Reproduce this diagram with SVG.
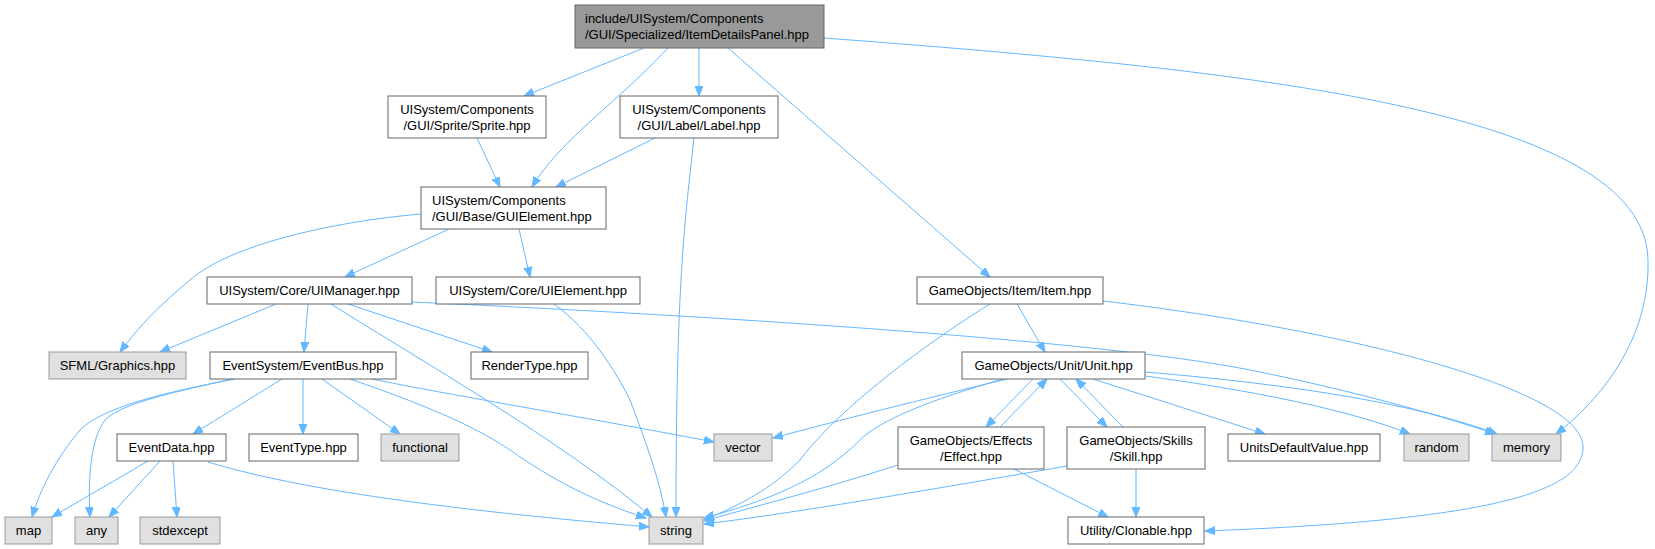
<svg xmlns="http://www.w3.org/2000/svg" width="1655" height="549" viewBox="0 0 1655 549">
<style>
.n rect{fill:#ffffff;stroke:#666666;stroke-width:1}
.g rect{fill:#e0e0e0;stroke:#999999;stroke-width:1}
.m rect{fill:#999999;stroke:#666666;stroke-width:1}
text{font-family:"Liberation Sans",Arial,sans-serif;font-size:13px;fill:#000000;text-anchor:middle}
text.l{text-anchor:start}
#edges path{fill:none;stroke:#63b8ff;stroke-width:1;marker-end:url(#a)}
</style>
<defs>
<marker id="a" markerWidth="11" markerHeight="9" refX="10" refY="4" orient="auto" markerUnits="userSpaceOnUse">
<path d="M0,0L10,4L0,8z" fill="#63b8ff" stroke="#63b8ff" stroke-width="1"/>
</marker>
</defs>
<rect width="1655" height="549" fill="#ffffff"/>
<g id="edges">
<path d="M644,48L524,96"/>
<path d="M668,48C620,100 560,140 532,187"/>
<path d="M699,48L699,96"/>
<path d="M728,48L990,277"/>
<path d="M824,38C1250,70 1645,110 1648,260C1650,340 1600,400 1556,434"/>
<path d="M477,138L500,187"/>
<path d="M655,138L556,187"/>
<path d="M694,138C685,220 676,280 676,517"/>
<path d="M421,214C330,222 230,245 190,280C160,305 140,325 120,352"/>
<path d="M449,229L345,277"/>
<path d="M519,229L530,277"/>
<path d="M276,304L160,352"/>
<path d="M308,304L304,352"/>
<path d="M331,304C420,360 560,440 652,517"/>
<path d="M348,304L492,352"/>
<path d="M412,302C700,315 1100,340 1250,370C1350,390 1440,415 1495,434"/>
<path d="M554,304C590,330 615,370 630,400C645,440 660,480 666,517"/>
<path d="M235,379C150,395 100,410 80,430C55,460 40,490 32,517"/>
<path d="M232,379C160,395 120,405 105,420C90,440 88,480 90,517"/>
<path d="M282,379L193,434"/>
<path d="M303,379L303,434"/>
<path d="M322,379L400,434"/>
<path d="M350,379C440,410 480,430 510,450C550,478 590,500 646,518"/>
<path d="M372,379C450,395 600,420 714,442"/>
<path d="M148,461L52,517"/>
<path d="M160,461L109,517"/>
<path d="M173,461L177,517"/>
<path d="M208,462C300,490 450,510 649,527"/>
<path d="M990,304C900,360 830,420 800,460C770,490 740,505 704,520"/>
<path d="M1017,304L1045,352"/>
<path d="M1103,301C1350,330 1583,390 1583,447C1583,490 1500,520 1205,531"/>
<path d="M1007,379C920,400 840,420 773,438"/>
<path d="M1003,379C930,400 880,420 860,440C820,480 770,500 704,518"/>
<path d="M1033,379L986,427"/>
<path d="M1000,427L1047,379"/>
<path d="M1060,379L1107,427"/>
<path d="M1123,427L1076,379"/>
<path d="M1093,379L1265,434"/>
<path d="M1145,376C1250,390 1350,410 1410,434"/>
<path d="M1145,372C1300,385 1420,405 1497,434"/>
<path d="M898,465C820,490 760,505 704,521"/>
<path d="M1067,466C900,495 780,515 704,524"/>
<path d="M1014,469L1108,517"/>
<path d="M1136,469L1136,517"/>
</g>
<g id="main" class="m"><rect x="575" y="5" width="249" height="43"/><text class="l" x="585" y="22.5">include/UISystem/Components</text><text class="l" x="585" y="38.5">/GUI/Specialized/ItemDetailsPanel.hpp</text></g>
<g id="sprite" class="n"><rect x="388" y="96" width="158" height="42"/><text x="467" y="114">UISystem/Components</text><text x="467" y="130">/GUI/Sprite/Sprite.hpp</text></g>
<g id="label" class="n"><rect x="620" y="96" width="158" height="42"/><text x="699" y="114">UISystem/Components</text><text x="699" y="130">/GUI/Label/Label.hpp</text></g>
<g id="guielement" class="n"><rect x="421" y="187" width="185" height="42"/><text class="l" x="432" y="205">UISystem/Components</text><text class="l" x="432" y="221">/GUI/Base/GUIElement.hpp</text></g>
<g id="uimanager" class="n"><rect x="207" y="277" width="205" height="27"/><text x="309.5" y="294.5">UISystem/Core/UIManager.hpp</text></g>
<g id="uielement" class="n"><rect x="436" y="277" width="204" height="27"/><text x="538" y="294.5">UISystem/Core/UIElement.hpp</text></g>
<g id="item" class="n"><rect x="917" y="277" width="186" height="27"/><text x="1010" y="294.5">GameObjects/Item/Item.hpp</text></g>
<g id="sfml" class="g"><rect x="49" y="352" width="137" height="27"/><text x="117.5" y="369.5">SFML/Graphics.hpp</text></g>
<g id="eventbus" class="n"><rect x="210" y="352" width="186" height="27"/><text x="303" y="369.5">EventSystem/EventBus.hpp</text></g>
<g id="rendertype" class="n"><rect x="471" y="352" width="117" height="27"/><text x="529.5" y="369.5">RenderType.hpp</text></g>
<g id="unit" class="n"><rect x="962" y="352" width="183" height="27"/><text x="1053.5" y="369.5">GameObjects/Unit/Unit.hpp</text></g>
<g id="eventdata" class="n"><rect x="117" y="434" width="109" height="27"/><text x="171.5" y="451.5">EventData.hpp</text></g>
<g id="eventtype" class="n"><rect x="249" y="434" width="109" height="27"/><text x="303.5" y="451.5">EventType.hpp</text></g>
<g id="functional" class="g"><rect x="381" y="434" width="78" height="27"/><text x="420" y="451.5">functional</text></g>
<g id="vector" class="g"><rect x="714" y="434" width="58" height="27"/><text x="743" y="451.5">vector</text></g>
<g id="effect" class="n"><rect x="898" y="427" width="146" height="42"/><text x="971" y="444.5">GameObjects/Effects</text><text x="971" y="460.5">/Effect.hpp</text></g>
<g id="skill" class="n"><rect x="1067" y="427" width="138" height="42"/><text x="1136" y="444.5">GameObjects/Skills</text><text x="1136" y="460.5">/Skill.hpp</text></g>
<g id="unitsdefault" class="n"><rect x="1228" y="434" width="152" height="27"/><text x="1304" y="451.5">UnitsDefaultValue.hpp</text></g>
<g id="random" class="g"><rect x="1404" y="434" width="65" height="27"/><text x="1436.5" y="451.5">random</text></g>
<g id="memory" class="g"><rect x="1492" y="434" width="69" height="27"/><text x="1526.5" y="451.5">memory</text></g>
<g id="map" class="g"><rect x="5" y="517" width="47" height="27"/><text x="28.5" y="534.5">map</text></g>
<g id="any" class="g"><rect x="75" y="517" width="43" height="27"/><text x="96.5" y="534.5">any</text></g>
<g id="stdexcept" class="g"><rect x="140" y="517" width="80" height="27"/><text x="180" y="534.5">stdexcept</text></g>
<g id="string" class="g"><rect x="649" y="517" width="54" height="27"/><text x="676" y="534.5">string</text></g>
<g id="clonable" class="n"><rect x="1068" y="517" width="136" height="27"/><text x="1136" y="534.5">Utility/Clonable.hpp</text></g>
</svg>
